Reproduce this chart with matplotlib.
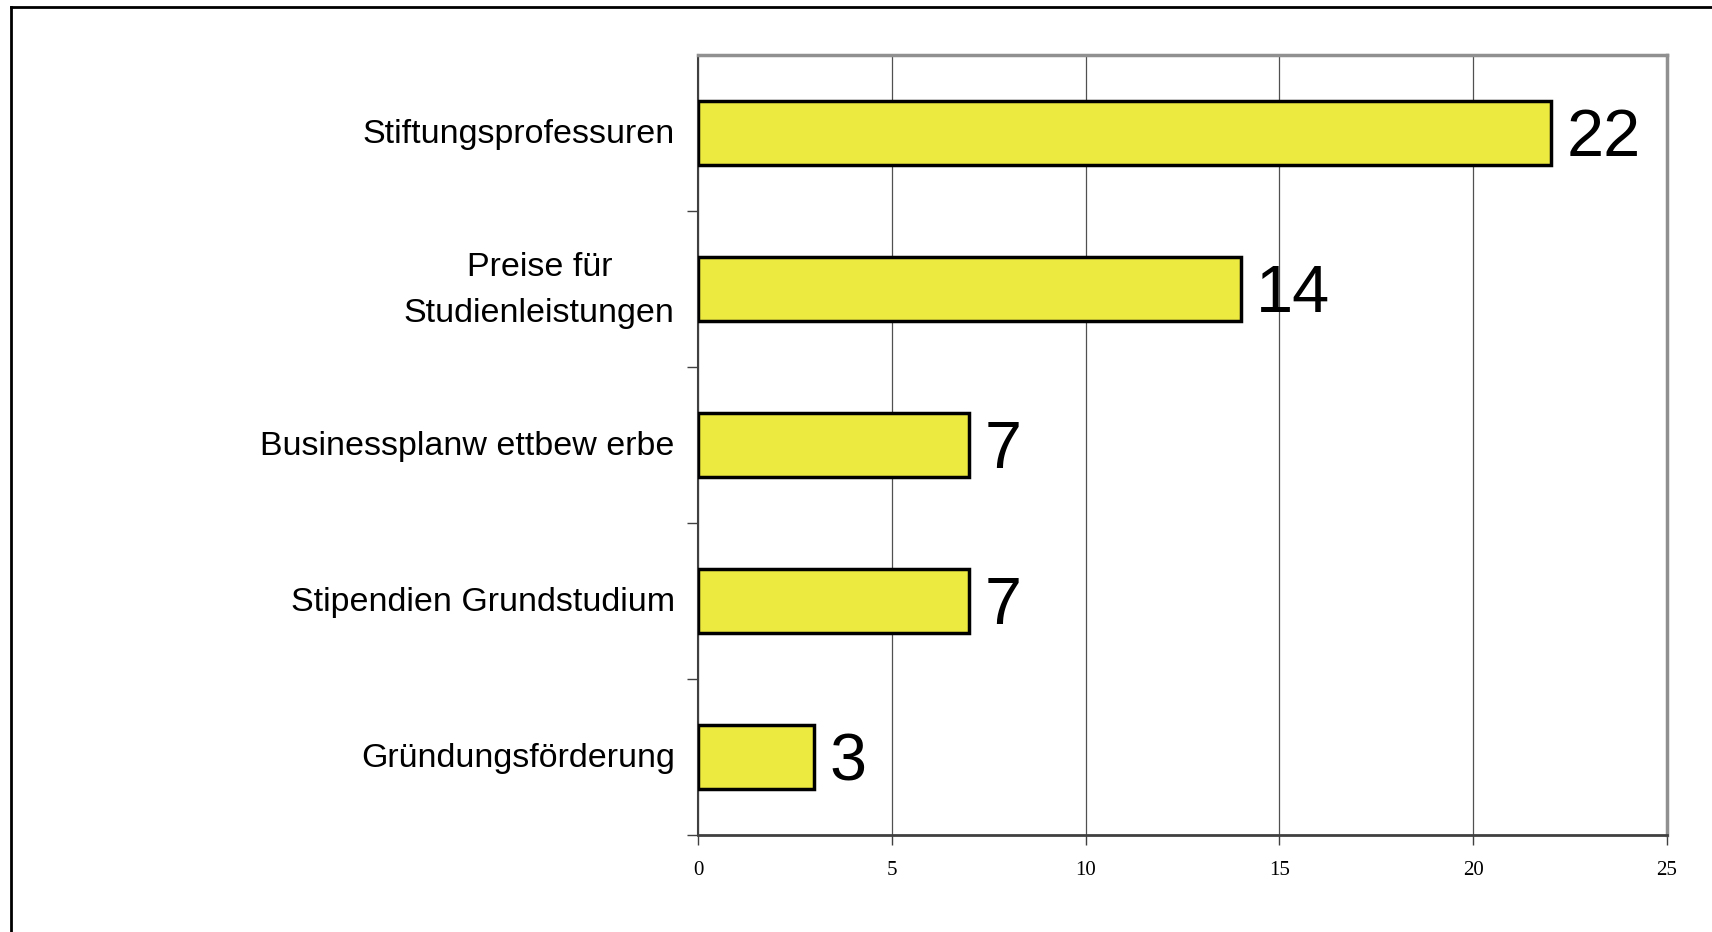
import numpy as np
import matplotlib.pyplot as plt
from matplotlib.lines import Line2D

# data (top to bottom)
categories = ["Stiftungsprofessuren",
              "Preise für\nStudienleistungen",
              "Businessplanw ettbew erbe",
              "Stipendien Grundstudium",
              "Gründungsförderung"]
counts = [22, 14, 7, 7, 3]
xticks = [0, 5, 10, 15, 20, 25]

fig = plt.figure(figsize=(17.12, 9.32), dpi=100)
ax = fig.add_axes([0.4077, 0.104, 0.566, 0.837])

ypos = np.arange(len(categories))
ax.barh(ypos, counts, height=0.41, color="#ECE940", edgecolor="black", linewidth=2.5, zorder=3)

ax.set_xlim(0, 25)
ax.set_ylim(len(categories) - 0.5, -0.5)

# value labels
for y, v in zip(ypos, counts):
    ax.text(v + 0.4, y + 0.04, str(v), va="center", ha="left", fontsize=48,
            family="Liberation Sans", zorder=4)

# category labels as text so the tick marks can sit between bars
ax.set_yticks(ypos + 0.5)
ax.set_yticklabels([])
ax.tick_params(axis="y", direction="out", length=8, width=1, color="#404040")
for y, lab in zip(ypos, categories):
    ax.text(-0.6, y + 0.01, lab, va="center", ha="right", fontsize=24.5,
            family="Liberation Sans", multialignment="center", linespacing=1.6,
            transform=ax.transData)

ax.set_xticks(xticks)
ax.set_xticklabels([str(t) for t in xticks], family="Liberation Serif", fontsize=15)
ax.tick_params(axis="x", direction="out", length=7, width=1, color="#404040", pad=12)

ax.grid(axis="x", color="#505050", linewidth=0.9, zorder=0)

ax.spines["left"].set_color("#404040")
ax.spines["left"].set_linewidth(1.5)
ax.spines["bottom"].set_color("#404040")
ax.spines["bottom"].set_linewidth(2)
ax.spines["top"].set_color("#909090")
ax.spines["top"].set_linewidth(2.5)
ax.spines["right"].set_color("#909090")
ax.spines["right"].set_linewidth(2.5)

# outer frame (only left and top visible in the picture)
fig.add_artist(Line2D([11 / 1712, 11 / 1712], [0, 1 - 7 / 932], transform=fig.transFigure,
                      color="black", linewidth=2))
fig.add_artist(Line2D([11 / 1712, 1], [1 - 7 / 932, 1 - 7 / 932], transform=fig.transFigure,
                      color="black", linewidth=2))

fig.savefig("out.png", dpi=100)
